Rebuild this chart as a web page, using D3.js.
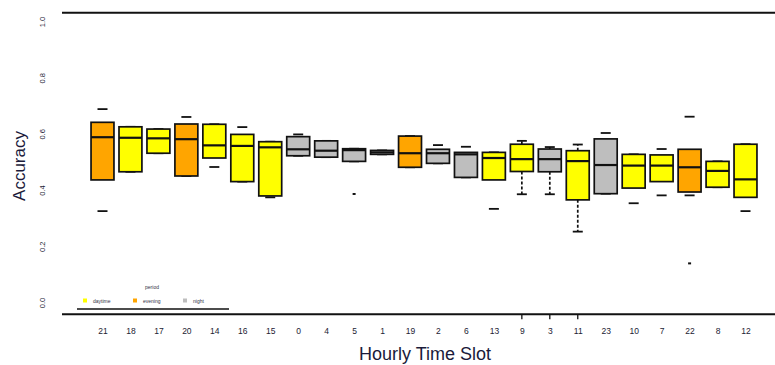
<!DOCTYPE html>
<html>
<head>
<meta charset="utf-8">
<script src="https://cdn.jsdelivr.net/npm/d3@7"></script>
<style>
  html, body { margin: 0; padding: 0; background: #fff; }
  svg { display: block; font-family: "Liberation Sans", Arial, sans-serif; }
</style>
</head>
<body>
<svg id="chart" width="775" height="365"></svg>
<script>
// Hourly slots, ordered by median accuracy
const hours   = ["21","18","17","20","14","16","15","0","4","5","1","19","2","6","13","9","3","11","23","10","7","22","8","12"];
const periods = ["evening","daytime","daytime","evening","daytime","daytime","daytime","night","night","night","night","evening","night","night","daytime","daytime","night","daytime","night","daytime","daytime","evening","daytime","daytime"];
// Five-number summaries per slot
const whiskerHigh = [0.690,0.627,0.619,0.662,0.636,0.626,0.574,0.600,0.577,0.549,0.543,0.594,0.562,0.556,0.536,0.577,0.555,0.564,0.605,0.529,0.548,0.663,0.504,0.565];
const q3          = [0.643,0.627,0.619,0.637,0.636,0.600,0.574,0.592,0.577,0.549,0.543,0.594,0.547,0.536,0.536,0.565,0.548,0.542,0.584,0.529,0.527,0.547,0.504,0.565];
const medians     = [0.590,0.588,0.586,0.583,0.561,0.559,0.554,0.547,0.542,0.544,0.536,0.533,0.533,0.529,0.516,0.512,0.512,0.505,0.491,0.489,0.489,0.483,0.470,0.440];
const q1          = [0.438,0.467,0.533,0.452,0.516,0.432,0.381,0.524,0.519,0.504,0.529,0.483,0.497,0.447,0.438,0.468,0.467,0.367,0.389,0.409,0.432,0.395,0.412,0.376];
const whiskerLow  = [0.327,0.467,0.533,0.452,0.484,0.432,0.376,0.524,0.519,0.504,0.529,0.483,0.497,0.447,0.335,0.387,0.387,0.254,0.389,0.355,0.383,0.383,0.412,0.327];
// Outlying observations
const outlierHours  = ["5","22"];
const outlierValues = [0.388,0.141];
// Legend and axis ticks
const periodNames  = ["daytime","evening","night"];
const periodColors = ["#FFFF00","#FFA500","#BEBEBE"];
const yTicks = [0, 0.2, 0.4, 0.6, 0.8, 1.0];

const svg = d3.select("#chart");

const x = d3.scalePoint().domain(hours).range([102.5, 745.5]);
const y = d3.scaleLinear().domain([0, 1]).range([303, 22]);
const color = d3.scaleOrdinal().domain(periodNames).range(periodColors);
const boxW = x.step() * 0.82;
const capW = 10;
const dashedWhiskers = new Set(["9","3","11"]);
const ink = "#111";

const rows = hours.map((h, i) => ({
  hour: h, period: periods[i], hi: whiskerHigh[i], q3: q3[i],
  med: medians[i], q1: q1[i], lo: whiskerLow[i]
}));

// top frame line
svg.append("line").attr("x1", 62).attr("x2", 775)
  .attr("y1", y(1.033)).attr("y2", y(1.033))
  .attr("stroke", ink).attr("stroke-width", 1.8);

// x axis
const xAxis = svg.append("g")
  .attr("transform", `translate(0,${y(-0.04)})`)
  .call(d3.axisBottom(x).tickSize(0).tickPadding(14));
xAxis.select(".domain").remove();
xAxis.selectAll("text").attr("font-size", 8.5).attr("fill", "#223");
svg.append("line").attr("x1", 62).attr("x2", 775)
  .attr("y1", y(-0.04)).attr("y2", y(-0.04))
  .attr("stroke", ink).attr("stroke-width", 1.8);
svg.append("g").selectAll("line")
  .data(hours.filter(h => dashedWhiskers.has(h)))
  .join("line")
  .attr("x1", d => x(d)).attr("x2", d => x(d))
  .attr("y1", y(-0.04)).attr("y2", y(-0.04) + 5)
  .attr("stroke", ink).attr("stroke-width", 1.3);

// y axis labels, rotated
svg.append("g").selectAll("text")
  .data(yTicks)
  .join("text")
  .attr("transform", d => `translate(45,${y(d)}) rotate(-90)`)
  .attr("text-anchor", "middle")
  .attr("font-size", 7.5)
  .attr("fill", "#223")
  .text(d => d3.format(".1f")(d));

// axis titles
svg.append("text")
  .attr("transform", `translate(25,${166}) rotate(-90)`)
  .attr("text-anchor", "middle")
  .attr("font-size", 17).attr("fill", "#1a1a3a")
  .text("Accuracy");
svg.append("text")
  .attr("x", 425).attr("y", 360)
  .attr("text-anchor", "middle")
  .attr("font-size", 18).attr("fill", "#1a1a3a")
  .text("Hourly Time Slot");

// boxes
const g = svg.append("g").selectAll("g")
  .data(rows).join("g")
  .attr("transform", d => `translate(${x(d.hour)},0)`);

g.filter(d => dashedWhiskers.has(d.hour)).append("line")
  .attr("y1", d => y(d.q3)).attr("y2", d => y(d.hi))
  .attr("stroke", ink).attr("stroke-width", 1.7).attr("stroke-dasharray", "3,2");
g.filter(d => dashedWhiskers.has(d.hour)).append("line")
  .attr("y1", d => y(d.q1)).attr("y2", d => y(d.lo))
  .attr("stroke", ink).attr("stroke-width", 1.7).attr("stroke-dasharray", "3,2");

g.append("line")
  .attr("x1", -capW / 2).attr("x2", capW / 2)
  .attr("y1", d => y(d.hi)).attr("y2", d => y(d.hi))
  .attr("stroke", ink).attr("stroke-width", 1.8);
g.append("line")
  .attr("x1", -capW / 2).attr("x2", capW / 2)
  .attr("y1", d => y(d.lo)).attr("y2", d => y(d.lo))
  .attr("stroke", ink).attr("stroke-width", 1.8);

g.append("rect")
  .attr("x", -boxW / 2).attr("width", boxW)
  .attr("y", d => y(d.q3))
  .attr("height", d => Math.max(y(d.q1) - y(d.q3), 0.5))
  .attr("fill", d => color(d.period))
  .attr("stroke", ink).attr("stroke-width", 1.7);

g.append("line")
  .attr("x1", -boxW / 2).attr("x2", boxW / 2)
  .attr("y1", d => y(d.med)).attr("y2", d => y(d.med))
  .attr("stroke", ink).attr("stroke-width", 2.2);

// outliers
svg.append("g").selectAll("line")
  .data(outlierHours.map((h, i) => ({ hour: h, v: outlierValues[i] })))
  .join("line")
  .attr("x1", d => x(d.hour) - 1.5).attr("x2", d => x(d.hour) + 1.5)
  .attr("y1", d => y(d.v)).attr("y2", d => y(d.v))
  .attr("stroke", ink).attr("stroke-width", 2);

// legend
const legend = svg.append("g");
legend.append("text")
  .attr("x", 152).attr("y", 289)
  .attr("text-anchor", "middle")
  .attr("font-size", 5).attr("fill", "#334")
  .text("period");
const legendX = [83, 133, 183];
const items = legend.selectAll("g.item")
  .data(periodNames).join("g")
  .attr("class", "item")
  .attr("transform", (d, i) => `translate(${legendX[i]},301)`);
items.append("rect")
  .attr("x", 0).attr("y", -2.5).attr("width", 4).attr("height", 4)
  .attr("fill", d => color(d));
items.append("text")
  .attr("x", 10).attr("y", 1.5)
  .attr("font-size", 5).attr("fill", "#334")
  .text(d => d);
legend.append("line")
  .attr("x1", 77).attr("x2", 229).attr("y1", 309).attr("y2", 309)
  .attr("stroke", ink).attr("stroke-width", 1.5);
</script>
</body>
</html>
